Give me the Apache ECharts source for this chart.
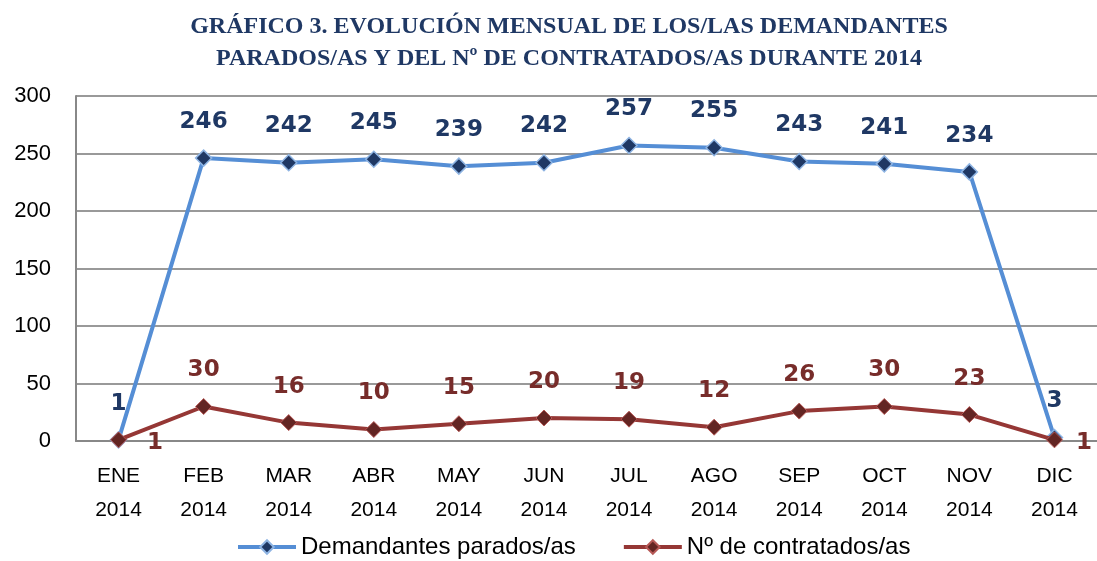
<!DOCTYPE html>
<html>
<head>
<meta charset="utf-8">
<script src="https://cdn.jsdelivr.net/npm/echarts@6/dist/echarts.min.js"></script>
<style>
  html, body { margin: 0; padding: 0; background: #fff; }
  #chart { width: 1097px; height: 561px; }
</style>
</head>
<body>
<div id="chart"></div>
<script>
// datos
const meses = ['ENE\n2014', 'FEB\n2014', 'MAR\n2014', 'ABR\n2014', 'MAY\n2014', 'JUN\n2014',
  'JUL\n2014', 'AGO\n2014', 'SEP\n2014', 'OCT\n2014', 'NOV\n2014', 'DIC\n2014'];
const demandantes = [1, 246, 242, 245, 239, 242, 257, 255, 243, 241, 234, 3];
const contratados = [1, 30, 16, 10, 15, 20, 19, 12, 26, 30, 23, 1];
const yTicks = [0, 50, 100, 150, 200, 250, 300];

const chart = echarts.init(document.getElementById('chart'));

// en ENE y DIC la etiqueta de contratados va a la derecha
const serieCon = contratados.map((v, i) => {
  if (i === 0) return { value: v, label: { position: 'right', offset: [4, 3] } };
  if (i === 11) return { value: v, label: { position: 'right', offset: [-3, 3] } };
  return v;
});

chart.setOption({
  animation: false,
  title: {
    text: 'GRÁFICO 3. EVOLUCIÓN MENSUAL DE LOS/LAS DEMANDANTES\nPARADOS/AS Y DEL Nº DE CONTRATADOS/AS DURANTE 2014',
    left: 569,
    top: 11,
    padding: 0,
    textAlign: 'center',
    textStyle: {
      fontFamily: 'Liberation Serif',
      fontWeight: 'bold',
      fontSize: 24,
      lineHeight: 32,
      color: '#1F3864'
    }
  },
  grid: { left: 76, right: 0, top: 96, bottom: 120 },
  legend: {
    top: 535,
    left: 236,
    padding: 0,
    itemGap: 46,
    itemWidth: 58,
    itemHeight: 17,
    lineStyle: { width: 4 },
    textStyle: { fontFamily: 'Liberation Sans', fontSize: 24, color: '#000' },
    data: ['Demandantes parados/as', 'Nº de contratados/as']
  },
  xAxis: {
    type: 'category',
    data: meses,
    axisLine: { lineStyle: { color: '#888', width: 2 } },
    axisTick: { show: false },
    axisLabel: {
      fontFamily: 'Liberation Sans',
      fontSize: 21,
      lineHeight: 34,
      color: '#000',
      margin: 18
    }
  },
  yAxis: {
    type: 'value',
    min: 0,
    max: 300,
    interval: 50,
    axisLine: { show: true, lineStyle: { color: '#888', width: 2 } },
    axisTick: { show: false },
    splitLine: { lineStyle: { color: '#999', width: 2 } },
    axisLabel: {
      fontFamily: 'Liberation Sans',
      fontSize: 22,
      color: '#000',
      margin: 25,
      align: 'right',
      formatter: v => yTicks.includes(v) ? String(v) : ''
    }
  },
  series: [
    {
      name: 'Demandantes parados/as',
      type: 'line',
      data: demandantes,
      symbol: 'diamond',
      symbolSize: 16,
      lineStyle: { color: '#558ED5', width: 4 },
      itemStyle: { color: '#1F3864', borderColor: '#8EB4E3', borderWidth: 1.5 },
      label: {
        show: true,
        position: 'top',
        distance: 16,
        fontFamily: 'DejaVu Sans',
        fontWeight: 'bold',
        fontSize: 23,
        color: '#1F3864'
      },
      z: 3
    },
    {
      name: 'Nº de contratados/as',
      type: 'line',
      data: serieCon,
      symbol: 'diamond',
      symbolSize: 16,
      lineStyle: { color: '#953735', width: 4 },
      itemStyle: { color: '#632523', borderColor: '#B65856', borderWidth: 1 },
      label: {
        show: true,
        position: 'top',
        distance: 16,
        fontFamily: 'DejaVu Sans',
        fontWeight: 'bold',
        fontSize: 23,
        color: '#772C2A'
      },
      z: 4
    }
  ]
});
</script>
</body>
</html>
